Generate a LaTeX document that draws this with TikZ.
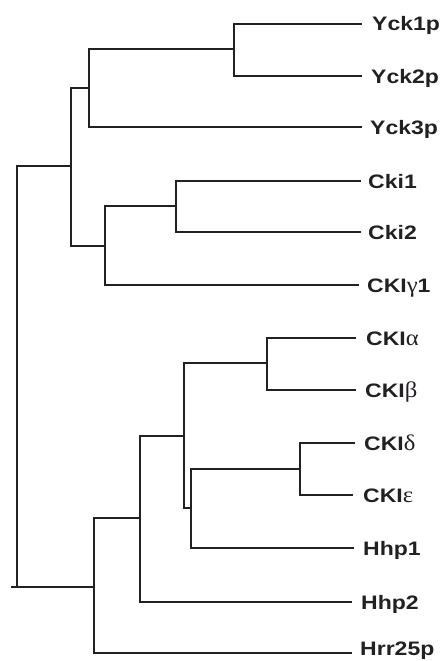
\documentclass[tikz,border=0pt]{standalone}
\usepackage{fontspec}
\setmainfont{Liberation Sans}
\newfontfamily\lblfont{Liberation Sans}[FakeStretch=1.18]
\newfontfamily\grkfont{Liberation Serif}[FakeStretch=1.1,Scale=1.15]
\newcommand{\gk}[1]{{\grkfont\mdseries #1}}
\definecolor{ink}{RGB}{35,32,36}
\begin{document}
\begin{tikzpicture}[x=1pt,y=-1pt,
  branch/.style={draw=ink, line width=1.4pt, line join=miter},
  leaf/.style={anchor=west, inner sep=0pt, text=ink,
    font=\lblfont\bfseries\fontsize{19.5}{21}\selectfont,
    text height=14pt, text depth=0pt}]
\useasboundingbox (0,0) rectangle (445,661);

% leaf labels
\node[leaf] (yck1) at (372,24)  {Yck1p};
\node[leaf] (yck2) at (371,76)  {Yck2p};
\node[leaf] (yck3) at (370,127) {Yck3p};
\node[leaf] (cki1) at (368,181) {Cki1};
\node[leaf] (cki2) at (368,232) {Cki2};
\node[leaf] (ckig) at (367,285) {CKI\gk{γ}1};
\node[leaf] (ckia) at (366,338) {CKI\gk{α}};
\node[leaf] (ckib) at (365,390) {CKI\gk{β}};
\node[leaf] (ckid) at (364,443) {CKI\gk{δ}};
\node[leaf] (ckie) at (363,495) {CKI\gk{ε}};
\node[leaf] (hhp1) at (363,548) {Hhp1};
\node[leaf] (hhp2) at (361,602) {Hhp2};
\node[leaf] (hrr)  at (360,648) {Hrr25p};

% branch tips, just left of each label
\coordinate (t-yck1) at (362,24);
\coordinate (t-yck2) at (362,76);
\coordinate (t-yck3) at (362,127);
\coordinate (t-cki1) at (361,181);
\coordinate (t-cki2) at (361,232);
\coordinate (t-ckig) at (359,285);
\coordinate (t-ckia) at (356,338);
\coordinate (t-ckib) at (356,390);
\coordinate (t-ckid) at (355,443);
\coordinate (t-ckie) at (353,495);
\coordinate (t-hhp1) at (354,548);
\coordinate (t-hhp2) at (352,602);
\coordinate (t-hrr)  at (352,653);

% internal nodes (vertical bar position, attachment height)
\coordinate (nA) at (234,49);
\coordinate (nB) at (89,88);
\coordinate (nC) at (176,206);
\coordinate (nD) at (105,246);
\coordinate (nE) at (71,166);
\coordinate (nF) at (267,363);
\coordinate (nG) at (300,469);
\coordinate (nH) at (191,508);
\coordinate (nI) at (184,436);
\coordinate (nJ) at (140,518);
\coordinate (nK) at (94,587);
\coordinate (root) at (17,376);
\coordinate (stub) at (11,587);

% tree
\path[branch] (nA) |- (t-yck1)  (nA) |- (t-yck2);
\path[branch] (nB) |- (nA)      (nB) |- (t-yck3);
\path[branch] (nC) |- (t-cki1)  (nC) |- (t-cki2);
\path[branch] (nD) |- (nC)      (nD) |- (t-ckig);
\path[branch] (nE) |- (nB)      (nE) |- (nD);
\path[branch] (nF) |- (t-ckia)  (nF) |- (t-ckib);
\path[branch] (nG) |- (t-ckid)  (nG) |- (t-ckie);
\path[branch] (nH) |- (nG)      (nH) |- (t-hhp1);
\path[branch] (nI) |- (nF)      (nI) |- (nH);
\path[branch] (nJ) |- (nI)      (nJ) |- (t-hhp2);
\path[branch] (nK) |- (nJ)      (nK) |- (t-hrr);
\path[branch] (root) |- (nE)    (root) |- (nK);
\path[branch] (stub) -- (nK);
\end{tikzpicture}
\end{document}
